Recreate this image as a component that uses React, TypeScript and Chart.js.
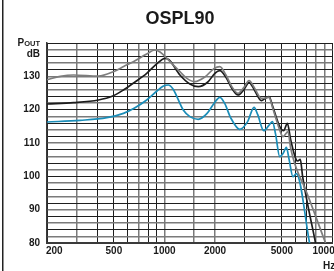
import React, { useEffect, useRef } from 'react';
import { Chart, registerables } from 'chart.js';
Chart.register(...registerables);

const TITLE = 'OSPL90';
const X_TICKS = [200, 300, 400, 500, 600, 700, 800, 900, 1000, 1500, 2000, 3000, 4000, 5000, 6000, 7000, 8000, 9000, 10000];
const X_LABELS = [200, 500, 1000, 2000, 5000, 10000];
const Y_LABELS = [80, 90, 100, 110, 120, 130];

const GRAY_FREQ = [200, 240, 288, 405, 497, 575, 653, 784, 878, 941, 1007, 1108, 1236, 1360, 1518, 1740, 1967, 2136, 2318, 2517, 2742, 2966, 3188, 3398, 3776, 4004, 4190, 4406, 4850, 5072, 5430, 5636, 5952, 6372, 6666, 9094];
const GRAY_DB = [129.0, 130.0, 130.4, 130.1, 131.4, 133.0, 134.4, 136.7, 137.9, 137.3, 136.0, 133.8, 131.4, 129.4, 128.4, 129.8, 132.3, 132.9, 130.5, 126.9, 124.9, 126.6, 128.7, 126.9, 123.4, 123.5, 123.7, 120.5, 113.9, 111.9, 113.4, 108.5, 103.9, 99.9, 97.9, 80];

const BLACK_FREQ = [200, 288, 405, 488, 570, 668, 784, 903, 1007, 1063, 1236, 1417, 1588, 1812, 1995, 2136, 2318, 2517, 2742, 2966, 3188, 3398, 3776, 4004, 4190, 4406, 4850, 5120, 5386, 5636, 6090, 6218, 6434, 6638, 7927];
const BLACK_DB = [121.7, 122.1, 122.9, 124.0, 125.9, 128.3, 130.9, 133.8, 135.4, 135.0, 130.4, 127.7, 126.9, 128.3, 130.9, 131.7, 129.8, 126.4, 124.4, 126.0, 128.1, 126.3, 122.7, 123.5, 123.9, 121.0, 115.0, 113.7, 115.9, 111.0, 104.9, 104.6, 105.1, 100.0, 80];

const BLUE_FREQ = [200, 315, 454, 570, 668, 784, 903, 980, 1054, 1124, 1294, 1417, 1588, 1788, 1967, 2136, 2287, 2482, 2806, 3131, 3412, 3590, 3897, 4172, 4388, 4590, 4850, 5086, 5314, 5520, 5814, 6090, 7304];
const BLUE_DB = [116.3, 116.8, 117.6, 118.9, 120.6, 122.9, 125.6, 127.0, 127.4, 126.2, 119.9, 117.9, 117.1, 118.8, 121.8, 123.7, 121.8, 117.5, 114.1, 116.5, 120.7, 118.5, 113.7, 115.2, 116.4, 112.5, 105.9, 106.9, 108.7, 105.0, 99.9, 100.8, 80];

const DARK_X = [200, 400, 500, 600, 800, 900, 3000, 4000, 5000, 6000, 7000, 10000];

export default function App() {
  const ref = useRef<HTMLCanvasElement>(null);
  useEffect(() => {
    document.body.style.margin = '0';
    const pts = (f: number[], d: number[]) => f.map((x, i) => ({ x, y: d[i] }));
    const overlay = {
      id: 'overlay',
      afterDraw(chart: any) {
        const ctx = chart.ctx;
        const xs = chart.scales.x;
        ctx.save();
        ctx.fillStyle = '#222';
        ctx.fillRect(2, 0, 1.5, chart.height);
        ctx.fillStyle = '#1a1a1a';
        ctx.font = 'bold 18px "Liberation Sans"';
        ctx.textAlign = 'center';
        ctx.textBaseline = 'middle';
        ctx.fillText(TITLE, 180, 19);
        ctx.textBaseline = 'alphabetic';
        ctx.textAlign = 'right';
        ctx.font = 'bold 7.5px "Liberation Sans"';
        const w = ctx.measureText('OUT').width;
        ctx.fillText('OUT', 40, 46);
        ctx.font = 'bold 10px "Liberation Sans"';
        ctx.fillText('P', 40 - w, 46);
        ctx.fillText('dB', 40, 57);
        ctx.textBaseline = 'middle';
        X_LABELS.forEach((v, i) => {
          const px = xs.getPixelForValue(v);
          if (i === 0) { ctx.textAlign = 'left'; ctx.fillText(String(v), px - 1, 251); }
          else if (i === X_LABELS.length - 1) { ctx.textAlign = 'left'; ctx.fillText(String(v), px - 20, 251); }
          else { ctx.textAlign = 'center'; ctx.fillText(String(v), px, 251); }
        });
        ctx.textAlign = 'left';
        ctx.fillText('Hz', 323, 266);
        ctx.restore();
      },
    };
    const ds = (f: number[], d: number[], color: string) => ({
      data: pts(f, d),
      borderColor: color,
      borderWidth: 1.7,
      pointRadius: 0,
      cubicInterpolationMode: 'monotone' as const,
      fill: false,
    });
    const isDarkY = (v: number) => v % 4 === 0;
    const chart = new Chart(ref.current!, {
      type: 'line',
      data: {
        datasets: [
          ds(GRAY_FREQ, GRAY_DB, '#7d7d7d'),
          ds(BLACK_FREQ, BLACK_DB, '#1c1c1c'),
          ds(BLUE_FREQ, BLUE_DB, '#1b8db8'),
        ],
      },
      options: {
        animation: false,
        responsive: true,
        maintainAspectRatio: false,
        layout: { padding: { top: 43, right: 1.5, left: 0, bottom: 0 } },
        plugins: { legend: { display: false }, tooltip: { enabled: false }, title: { display: false } },
        scales: {
          x: {
            type: 'logarithmic',
            min: 200,
            max: 10000,
            afterBuildTicks: (s: any) => { s.ticks = X_TICKS.map((v) => ({ value: v })); },
            afterFit: (s: any) => { s.height = 28; },
            ticks: { display: false },
            grid: {
              drawTicks: false,
              color: (c: any) => (DARK_X.includes(c.tick?.value) ? '#1e1e1e' : '#7a7a7a'),
              lineWidth: (c: any) => (DARK_X.includes(c.tick?.value) ? 1 : 1.5),
            },
            border: { color: '#3a3a3a', width: 2 },
          },
          y: {
            type: 'linear',
            min: 80,
            max: 140,
            afterFit: (s: any) => { s.width = 47; },
            ticks: {
              stepSize: 2,
              autoSkip: false,
              padding: 7,
              color: '#1a1a1a',
              font: { family: 'Liberation Sans', size: 10, weight: 'bold' },
              callback: (v: any) => (Y_LABELS.includes(Number(v)) ? String(v) : ''),
            },
            grid: {
              drawTicks: false,
              color: (c: any) => (isDarkY(c.tick?.value) ? '#1e1e1e' : '#7a7a7a'),
              lineWidth: (c: any) => (isDarkY(c.tick?.value) ? 1 : 1.5),
            },
            border: { color: '#3a3a3a', width: 1.5 },
          },
        },
      },
      plugins: [overlay],
    });
    return () => chart.destroy();
  }, []);
  return (
    <div style={{ width: 334, height: 271, position: 'relative' }}>
      <canvas ref={ref} />
    </div>
  );
}
